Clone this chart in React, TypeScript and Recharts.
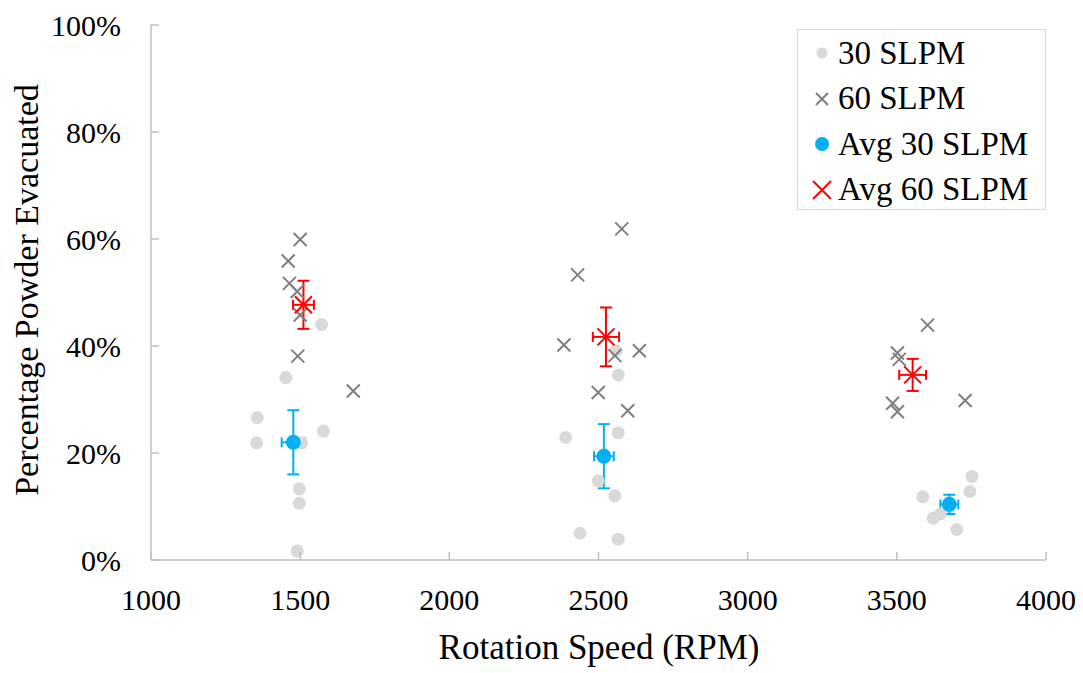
import { ScatterChart, Scatter, XAxis, YAxis, ErrorBar } from 'recharts';

// 30 SLPM runs (rpm, % evacuated)
const speed30 = [1572, 1452, 1356, 1578, 1354, 1505, 1497, 1497, 1490, 2559, 2566, 2390, 2566, 2499, 2555, 2438, 2566, 3752, 3745, 3587, 3645, 3622, 3701];
const evac30 = [44.0, 34.1, 26.6, 24.1, 21.9, 21.9, 13.3, 10.6, 1.7, 39.1, 34.6, 22.9, 23.8, 14.8, 12.0, 5.0, 3.9, 15.6, 12.8, 11.8, 8.6, 7.8, 5.7];

// 60 SLPM runs
const speed60 = [1500, 1460, 1464, 1490, 1500, 1492, 1678, 2578, 2430, 2384, 2555, 2637, 2499, 2598, 3603, 3502, 3508, 3486, 3502, 3729];
const evac60 = [59.9, 55.9, 51.7, 50.2, 45.8, 38.1, 31.6, 61.9, 53.3, 40.2, 38.2, 39.1, 31.3, 27.9, 43.9, 38.7, 37.5, 29.3, 27.7, 29.8];

// averages with error
const avgSpeed30 = [1477, 2518, 3676];
const avgEvac30 = [22.0, 19.4, 10.4];
const avgSpeedErr30 = [39, 33, 30];
const avgEvacErr30 = [6.0, 6.0, 1.8];

const avgSpeed60 = [1511, 2525, 3553];
const avgEvac60 = [47.7, 41.7, 34.6];
const avgSpeedErr60 = [35, 44, 45];
const avgEvacErr60 = [4.5, 5.5, 3.0];

const xTicks = [1000, 1500, 2000, 2500, 3000, 3500, 4000];
const yTicks = [0, 20, 40, 60, 80, 100];

const runs30 = speed30.map((s, i) => ({ rpm: s, pct: evac30[i] }));
const runs60 = speed60.map((s, i) => ({ rpm: s, pct: evac60[i] }));
const avg30 = avgSpeed30.map((s, i) => ({ rpm: s, pct: avgEvac30[i], ex: avgSpeedErr30[i], ey: avgEvacErr30[i] }));
const avg60 = avgSpeed60.map((s, i) => ({ rpm: s, pct: avgEvac60[i], ex: avgSpeedErr60[i], ey: avgEvacErr60[i] }));

const FONT = 'Liberation Serif';
const AXIS = '#bfbfbf';
const GREY_DOT = '#d9d9d9';
const GREY_X = '#7f7f7f';
const BLUE = '#00b0f0';
const RED = '#ff0000';

const dot = (color: string, r: number) => (p: any) => <circle cx={p.cx} cy={p.cy} r={r} fill={color} />;

const cross = (color: string, s: number) => (p: any) => (
  <path
    d={`M${p.cx - s},${p.cy - s}L${p.cx + s},${p.cy + s}M${p.cx - s},${p.cy + s}L${p.cx + s},${p.cy - s}`}
    stroke={color}
    strokeWidth={2}
    fill="none"
  />
);

const YTick = (p: any) => (
  <g>
    <line x1={p.x} x2={p.x + 8} y1={p.y} y2={p.y} stroke={AXIS} strokeWidth={1.5} />
    <text x={p.x - 30} y={p.y} dy="0.35em" textAnchor="end" fontFamily={FONT} fontSize={30} fill="#000">
      {p.payload.value}%
    </text>
  </g>
);

const XTick = (p: any) => (
  <g>
    <line x1={p.x} x2={p.x} y1={p.y} y2={p.y - 8} stroke={AXIS} strokeWidth={1.5} />
    <text x={p.x} y={p.y + 50} textAnchor="middle" fontFamily={FONT} fontSize={30} fill="#000">
      {p.payload.value}
    </text>
  </g>
);

const legendItems = [
  { name: '30 SLPM', icon: <circle cx={10} cy={10} r={5.5} fill={GREY_DOT} /> },
  { name: '60 SLPM', icon: <path d="M4,4L16,16M4,16L16,4" stroke={GREY_X} strokeWidth={2} /> },
  { name: 'Avg 30 SLPM', icon: <circle cx={10} cy={10} r={7} fill={BLUE} /> },
  { name: 'Avg 60 SLPM', icon: <path d="M1,1L19,19M1,19L19,1" stroke={RED} strokeWidth={2} /> },
];

export default function App() {
  return (
    <div style={{ position: 'absolute', left: 0, top: 0, width: 1083, height: 673, background: '#fff' }}>
      <ScatterChart width={1083} height={673} margin={{ top: 25, right: 37, left: 0, bottom: 0 }}>
        <XAxis
          type="number"
          dataKey="rpm"
          domain={[1000, 4000]}
          ticks={xTicks}
          height={113}
          stroke={AXIS}
          strokeWidth={1.5}
          tickLine={false}
          tickSize={0}
          tickMargin={0}
          tick={<XTick />}
          interval={0}
          label={{
            content: () => (
              <text x={599} y={659} textAnchor="middle" fontFamily={FONT} fontSize={35} fill="#000">
                Rotation Speed (RPM)
              </text>
            ),
          }}
        />
        <YAxis
          type="number"
          dataKey="pct"
          domain={[0, 100]}
          ticks={yTicks}
          width={151}
          stroke={AXIS}
          strokeWidth={1.5}
          tickLine={false}
          tickSize={0}
          tickMargin={0}
          tick={<YTick />}
          interval={0}
          label={{
            content: () => (
              <text
                transform="translate(26,290) rotate(-90)"
                textAnchor="middle"
                dominantBaseline="central"
                fontFamily={FONT}
                fontSize={34}
                fill="#000"
              >
                Percentage Powder Evacuated
              </text>
            ),
          }}
        />
        <Scatter name="30 SLPM" data={runs30} shape={dot(GREY_DOT, 6.5)} isAnimationActive={false} />
        <Scatter name="60 SLPM" data={runs60} shape={cross(GREY_X, 6.5)} isAnimationActive={false} />
        <Scatter name="Avg 30 SLPM" data={avg30} shape={dot(BLUE, 7.5)} isAnimationActive={false}>
          <ErrorBar dataKey="ey" direction="y" width={6} stroke={BLUE} strokeWidth={2} isAnimationActive={false} />
          <ErrorBar dataKey="ex" direction="x" width={5} stroke={BLUE} strokeWidth={2} isAnimationActive={false} />
        </Scatter>
        <Scatter name="Avg 60 SLPM" data={avg60} shape={cross(RED, 8.5)} isAnimationActive={false}>
          <ErrorBar dataKey="ey" direction="y" width={6} stroke={RED} strokeWidth={2} isAnimationActive={false} />
          <ErrorBar dataKey="ex" direction="x" width={5} stroke={RED} strokeWidth={2} isAnimationActive={false} />
        </Scatter>
      </ScatterChart>

      {/* legend box */}
      <div
        style={{
          position: 'absolute',
          left: 797,
          top: 29,
          width: 247,
          height: 179,
          border: '1.5px solid #d9d9d9',
          background: '#fff',
          fontFamily: FONT,
          fontSize: 33,
          color: '#000',
        }}
      >
        {legendItems.map((item, i) => (
          <div
            key={i}
            style={{ position: 'absolute', left: 14, top: 3 + i * 45.5, height: 40, display: 'flex', alignItems: 'center', whiteSpace: 'nowrap' }}
          >
            <svg width={20} height={20} style={{ marginRight: 6 }}>
              {item.icon}
            </svg>
            <span>{item.name}</span>
          </div>
        ))}
      </div>
    </div>
  );
}
